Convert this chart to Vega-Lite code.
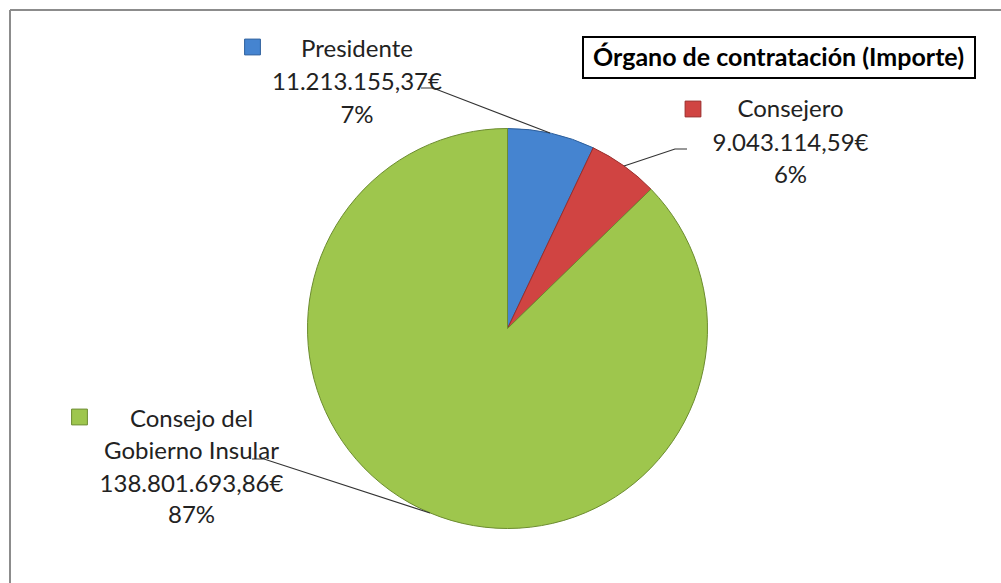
{
  "$schema": "https://vega.github.io/schema/vega-lite/v6.json",
  "width": 987,
  "height": 509,
  "autosize": {"type": "none"},
  "padding": {"left": 14, "top": 74, "right": 0, "bottom": 0},
  "background": "white",
  "config": {"view": {"stroke": null}},
  "datasets": {
    "organos": [
      {"organo": "Presidente", "importe": 11213155.37, "orden": 1},
      {"organo": "Consejero", "importe": 9043114.59, "orden": 2},
      {"organo": "Consejo del Gobierno Insular", "importe": 138801693.86, "orden": 3}
    ],
    "etiquetas": [
      {"organo": "Presidente", "texto": "Presidente", "x": -150.5, "y": 271.5},
      {"organo": "Presidente", "texto": "11.213.155,37€", "x": -150.5, "y": 238.5},
      {"organo": "Presidente", "texto": "7%", "x": -150.5, "y": 205.5},
      {"organo": "Consejero", "texto": "Consejero", "x": 283, "y": 211.5},
      {"organo": "Consejero", "texto": "9.043.114,59€", "x": 283, "y": 177.5},
      {"organo": "Consejero", "texto": "6%", "x": 283, "y": 145.5},
      {"organo": "Consejo del Gobierno Insular", "texto": "Consejo del", "x": -316, "y": -98.5},
      {"organo": "Consejo del Gobierno Insular", "texto": "Gobierno Insular", "x": -316, "y": -130},
      {"organo": "Consejo del Gobierno Insular", "texto": "138.801.693,86€", "x": -316, "y": -163},
      {"organo": "Consejo del Gobierno Insular", "texto": "87%", "x": -316, "y": -194.5}
    ],
    "cuadros": [
      {"organo": "Presidente", "x": -255, "y": 281.5},
      {"organo": "Consejero", "x": 185.5, "y": 219.5},
      {"organo": "Consejo del Gobierno Insular", "x": -428, "y": -88.5}
    ],
    "guias": [
      {"organo": "Presidente", "paso": 1, "x": -86.5, "y": 240.5},
      {"organo": "Presidente", "paso": 2, "x": -74.5, "y": 240.5},
      {"organo": "Presidente", "paso": 3, "x": 42.5, "y": 195.5},
      {"organo": "Consejero", "paso": 1, "x": 179.5, "y": 179.5},
      {"organo": "Consejero", "paso": 2, "x": 167.5, "y": 179.5},
      {"organo": "Consejero", "paso": 3, "x": 116.5, "y": 162.5},
      {"organo": "Consejo del Gobierno Insular", "paso": 1, "x": -255.5, "y": -130.5},
      {"organo": "Consejo del Gobierno Insular", "paso": 2, "x": -243.5, "y": -130.5},
      {"organo": "Consejo del Gobierno Insular", "paso": 3, "x": -77.5, "y": -184.5}
    ],
    "titulo": [
      {"texto": "Órgano de contratación (Importe)", "x": 271, "y": 262.5, "x0": 75.5, "x1": 467.5, "y0": 291.5, "y1": 250.5}
    ],
    "marco": [
      {"x": -497.5, "x2": 493.5, "y": 318.5, "y2": 318.5},
      {"x": -497.5, "x2": -497.5, "y": 318.5, "y2": -254.5}
    ]
  },
  "layer": [
    {
      "data": {"name": "marco"},
      "mark": {"type": "rule", "color": "#8c8c8c", "strokeWidth": 2},
      "encoding": {
        "x": {"field": "x", "type": "quantitative", "scale": {"domain": [-493.5, 493.5], "nice": false, "zero": false}, "axis": null},
        "x2": {"field": "x2"},
        "y": {"field": "y", "type": "quantitative", "scale": {"domain": [-254.5, 254.5], "nice": false, "zero": false}, "axis": null},
        "y2": {"field": "y2"}
      }
    },
    {
      "data": {"name": "organos"},
      "mark": {"type": "arc", "radius": 200, "strokeWidth": 1},
      "encoding": {
        "theta": {"field": "importe", "type": "quantitative", "stack": true},
        "order": {"field": "orden", "type": "quantitative"},
        "fill": {
          "field": "organo", "type": "nominal",
          "scale": {"domain": ["Presidente", "Consejero", "Consejo del Gobierno Insular"], "range": ["#4584d0", "#d04442", "#9ec64d"]},
          "legend": null
        },
        "stroke": {
          "field": "organo", "type": "nominal",
          "scale": {"domain": ["Presidente", "Consejero", "Consejo del Gobierno Insular"], "range": ["#2d5f9c", "#9a2d2b", "#6c8c2f"]},
          "legend": null
        }
      }
    },
    {
      "data": {"name": "guias"},
      "mark": {"type": "line", "color": "#333333", "strokeWidth": 1.2},
      "encoding": {
        "x": {"field": "x", "type": "quantitative"},
        "y": {"field": "y", "type": "quantitative"},
        "detail": {"field": "organo", "type": "nominal"},
        "order": {"field": "paso", "type": "quantitative"}
      }
    },
    {
      "data": {"name": "cuadros"},
      "mark": {"type": "point", "shape": "square", "filled": true, "size": 250, "opacity": 1, "strokeWidth": 1},
      "encoding": {
        "x": {"field": "x", "type": "quantitative"},
        "y": {"field": "y", "type": "quantitative"},
        "fill": {"field": "organo", "type": "nominal", "legend": null},
        "stroke": {"field": "organo", "type": "nominal", "legend": null}
      }
    },
    {
      "data": {"name": "etiquetas"},
      "mark": {"type": "text", "font": "Lato", "fontSize": 24, "align": "center", "baseline": "alphabetic", "color": "#222222"},
      "encoding": {
        "x": {"field": "x", "type": "quantitative"},
        "y": {"field": "y", "type": "quantitative"},
        "text": {"field": "texto"}
      }
    },
    {
      "data": {"name": "titulo"},
      "mark": {"type": "rect", "fill": "white", "stroke": "#000000", "strokeWidth": 2},
      "encoding": {
        "x": {"field": "x0", "type": "quantitative"},
        "x2": {"field": "x1"},
        "y": {"field": "y0", "type": "quantitative"},
        "y2": {"field": "y1"}
      }
    },
    {
      "data": {"name": "titulo"},
      "mark": {"type": "text", "font": "Lato", "fontSize": 25, "fontWeight": "bold", "align": "center", "baseline": "alphabetic", "color": "#000000"},
      "encoding": {
        "x": {"field": "x", "type": "quantitative"},
        "y": {"field": "y", "type": "quantitative"},
        "text": {"field": "texto"}
      }
    }
  ]
}
